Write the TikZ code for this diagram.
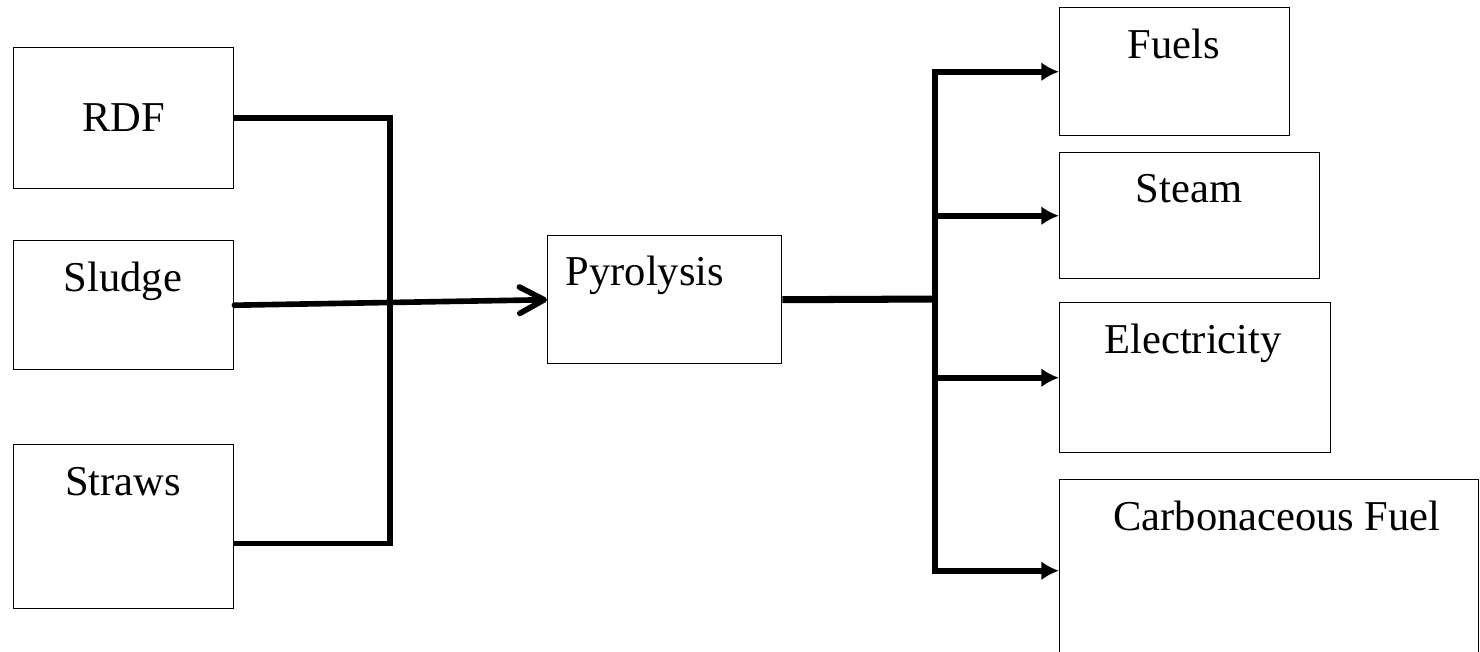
\documentclass[tikz,border=0pt]{standalone}
\usepackage{fontspec}
\setmainfont{Liberation Serif}
\usetikzlibrary{arrows.meta}
\tikzstyle{box}=[rectangle, draw, line width=0.4pt, inner sep=0pt, anchor=north west]
\tikzstyle{lbl}=[inner sep=0pt, anchor=base, font=\fontsize{12.1}{14}\selectfont]
\tikzstyle{pipe}=[-, line width=1.6pt]
\tikzstyle{feed}=[line width=1.6pt, line cap=round, -{Straight Barb[length=7pt,width=7.5pt,round]}]
\tikzstyle{edge}=[line width=1.6pt, -{Latex[length=5pt,width=5.4pt]}]
\newcommand{\busL}{3.90}
\newcommand{\busR}{9.35}
\newcommand{\boxW}{2.20}

\begin{document}
\begin{tikzpicture}
	\useasboundingbox (0,0) rectangle (14.8,-6.51);
	%The feedstocks
	\draw (0.13,-0.47) node[box, minimum width=\boxW cm, minimum height=1.41cm] (rdf) {};
	\draw (0.13,-2.40) node[box, minimum width=\boxW cm, minimum height=1.29cm] (sludge) {};
	\draw (0.13,-4.44) node[box, minimum width=\boxW cm, minimum height=1.64cm] (straws) {};
	\node[lbl] (rdf-t) at (1.235,-1.31) {RDF};
	\node[lbl] (sludge-t) at (1.23,-2.91) {Sludge};
	\node[lbl] (straws-t) at (1.23,-4.95) {Straws};
	
	%The process
	\draw (5.47,-2.35) node[box, minimum width=2.34cm, minimum height=1.28cm] (pyro) {};
	\node[lbl] (pyro-t) at (6.45,-2.85) {Pyrolysis};
	
	%The products
	\draw (10.59,-0.07) node[box, minimum width=2.30cm, minimum height=1.28cm] (fuels) {};
	\draw (10.59,-1.52) node[box, minimum width=2.60cm, minimum height=1.26cm] (steam) {};
	\draw (10.59,-3.02) node[box, minimum width=2.71cm, minimum height=1.50cm] (elec) {};
	\draw (10.59,-4.79) node[box, minimum width=4.19cm, minimum height=1.82cm] (carb) {};
	\node[lbl] (fuels-t) at (11.74,-0.58) {Fuels};
	\node[lbl] (steam-t) at (11.89,-2.02) {Steam};
	\node[lbl] (elec-t) at (11.93,-3.53) {Electricity};
	\node[lbl] (carb-t) at (12.77,-5.30) {Carbonaceous Fuel};
	
	%The input bus
	\coordinate (lbus) at (\busL,-1.18);
	\coordinate (straws-out) at (2.33,-5.435);
	\draw[pipe] (rdf.east) -| (lbus |- straws-out) -- (straws-out);
	\draw[feed] (sludge.east) -- (pyro.west);
	
	%The output bus
	\coordinate (rbus) at (\busR,-2.99);
	\draw[pipe, line width=2pt] (pyro.east) -- (rbus);
	\draw[edge, {Latex[length=5pt,width=5.4pt]}-{Latex[length=5pt,width=5.4pt]}] (fuels.west) -| (rbus |- carb.west) -- (carb.west);
	\draw[edge] (rbus |- steam.west) -- (steam.west);
	\draw[edge] (rbus |- elec.west) -- (elec.west);
\end{tikzpicture}
\end{document}
